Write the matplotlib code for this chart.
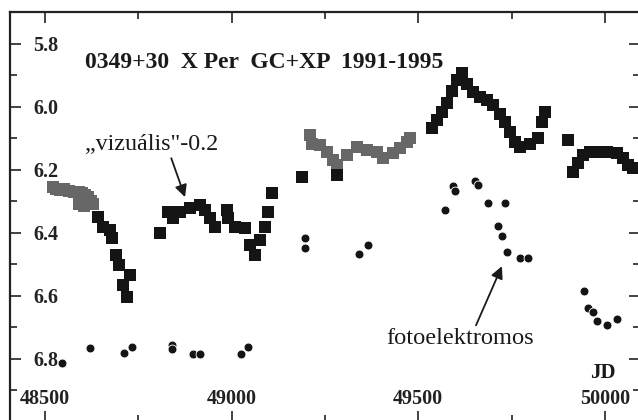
import matplotlib.pyplot as plt
from matplotlib.ticker import MultipleLocator

# "vizualis" (visual) estimates, grey squares
vis_gray1_jd = [48520, 48530, 48540, 48552, 48565, 48578, 48590, 48600, 48608,
                48615, 48622, 48628, 48590, 48605]
vis_gray1_mag = [6.255, 6.262, 6.265, 6.262, 6.268, 6.272, 6.270, 6.275, 6.280,
                 6.285, 6.300, 6.310, 6.310, 6.315]

vis_gray2_jd = [49210, 49215, 49237, 49255, 49272, 49282, 49309, 49336, 49363,
                49389, 49406, 49432, 49451, 49470, 49478]
vis_gray2_mag = [6.091, 6.117, 6.123, 6.145, 6.170, 6.186, 6.154, 6.129, 6.139,
                 6.145, 6.164, 6.148, 6.132, 6.113, 6.101]

# GC+XP data, black squares
vis_black_jd = [48642, 48655, 48674, 48679, 48690, 48698, 48728, 48709, 48720,
                48808, 48830, 48843, 48862, 48888, 48915, 48929, 48942, 48955,
                48988, 48990, 49009, 49036, 49049, 49063, 49076, 49089, 49097,
                49108, 49188, 49282,
                49537, 49550, 49564, 49577, 49590, 49604, 49617, 49631, 49647,
                49665, 49684, 49700, 49719, 49732, 49746, 49759, 49773, 49799,
                49821, 49831, 49840, 49901,
                49915, 49928, 49941, 49960, 49981, 50006, 50032, 50048, 50062,
                50075]
vis_black_mag = [6.351, 6.382, 6.392, 6.417, 6.471, 6.503, 6.534, 6.566, 6.604,
                 6.401, 6.335, 6.354, 6.335, 6.322, 6.313, 6.329, 6.354, 6.382,
                 6.329, 6.354, 6.382, 6.386, 6.439, 6.471, 6.424, 6.382, 6.335,
                 6.275, 6.224, 6.218,
                 6.069, 6.044, 6.018, 5.987, 5.949, 5.917, 5.892, 5.927, 5.955,
                 5.971, 5.980, 5.996, 6.022, 6.050, 6.082, 6.113, 6.129, 6.117,
                 6.101, 6.050, 6.018, 6.107,
                 6.208, 6.180, 6.154, 6.145, 6.145, 6.145, 6.148, 6.164, 6.186,
                 6.196]

# photoelectric measurements, circles
pe_jd = [48546, 48621, 48712, 48733, 48840, 48840, 48896, 48915, 49025, 49044,
         49197, 49197, 49341, 49365,
         49572, 49593, 49598, 49652, 49660, 49687, 49732, 49714, 49724, 49738,
         49773, 49794,
         49944, 49955, 49968, 49979, 50006, 50032]
pe_mag = [6.813, 6.765, 6.781, 6.762, 6.755, 6.770, 6.784, 6.784, 6.784, 6.762,
          6.417, 6.449, 6.468, 6.439,
          6.328, 6.252, 6.268, 6.235, 6.249, 6.306, 6.306, 6.379, 6.411, 6.461,
          6.480, 6.480,
          6.585, 6.639, 6.651, 6.680, 6.693, 6.674]

serif = 'Liberation Serif'

fig = plt.figure(figsize=(6.38, 4.20), dpi=100)
ax = fig.add_axes([10 / 638, -2 / 420, 630 / 638, 410 / 420])

ax.plot(vis_gray1_jd, vis_gray1_mag, 's', color='#676767', ms=8.3, mew=0)
ax.plot(vis_gray2_jd, vis_gray2_mag, 's', color='#676767', ms=8.3, mew=0)
ax.plot(vis_black_jd, vis_black_mag, 's', color='#141414', ms=8.3, mew=0)
ax.plot(pe_jd, pe_mag, 'o', color='#141414', ms=6.4, mec='white', mew=0.6)

ax.set_xlim(48406, 50094)
ax.set_ylim(7.0, 5.7)

ax.xaxis.set_major_locator(MultipleLocator(500))
ax.xaxis.set_minor_locator(MultipleLocator(250))
ax.yaxis.set_major_locator(MultipleLocator(0.2))
ax.yaxis.set_minor_locator(MultipleLocator(0.1))

ax.tick_params(which='both', direction='in', top=True, right=True, width=1.2,
               colors='#222222', labelsize=14.5)
ax.tick_params(which='major', length=8)
ax.tick_params(which='minor', length=5)
ax.tick_params(axis='y', pad=-17)
ax.tick_params(axis='x', pad=-9)
ax.set_yticks([5.8, 6.0, 6.2, 6.4, 6.6, 6.8])
ax.set_yticklabels(['5.8', '6.0', '6.2', '6.4', '6.6', '6.8'])
ax.set_xticks([48500, 49000, 49500, 50000])
ax.set_xticklabels(['48500', '49000', '49500', '50000'])
for lab in ax.get_yticklabels():
    lab.set_horizontalalignment('left')
    lab.set_fontfamily(serif)
    lab.set_fontweight('bold')
for lab in ax.get_xticklabels():
    lab.set_verticalalignment('bottom')
    lab.set_fontfamily(serif)
    lab.set_fontweight('bold')

for s in ax.spines.values():
    s.set_linewidth(1.6)
    s.set_color('#222222')

ax.text(48607, 5.879, '0349+30  X Per  GC+XP  1991-1995', family=serif,
        fontweight='bold', fontsize=17, color='#1a1a1a', va='baseline')
ax.annotate('\u201evizuális"-0.2', xy=(48875, 6.287), xytext=(48607, 6.139),
            family=serif, fontsize=17.3, color='#1a1a1a', va='baseline',
            arrowprops=dict(arrowstyle='-|>', color='#1a1a1a', lw=1.3,
                            mutation_scale=18, shrinkA=0, shrinkB=0,
                            relpos=(0.64, 0)))
ax.annotate('fotoelektromos', xy=(49724, 6.506), xytext=(49414, 6.753),
            family=serif, fontsize=17.6, color='#1a1a1a', va='baseline',
            arrowprops=dict(arrowstyle='-|>', color='#1a1a1a', lw=1.3,
                            mutation_scale=18, shrinkA=0, shrinkB=0,
                            relpos=(0.6, 1.0)))
ax.text(49960, 6.86, 'JD', family=serif, fontweight='bold', fontsize=15,
        color='#1a1a1a', va='baseline')

fig.savefig('out.png', dpi=100)
